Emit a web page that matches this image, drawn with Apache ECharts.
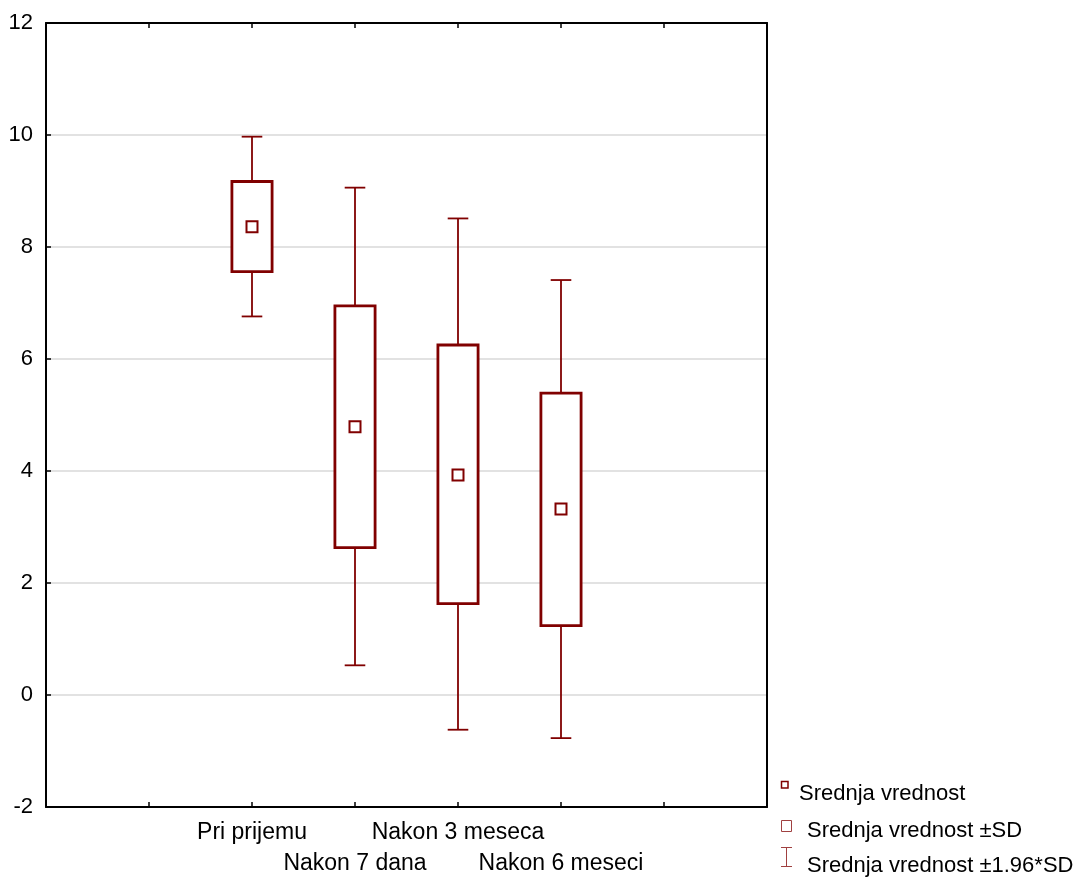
<!DOCTYPE html>
<html>
<head>
<meta charset="utf-8">
<title>Srednja vrednost</title>
<script src="https://cdn.jsdelivr.net/npm/echarts@6/dist/echarts.min.js"></script>
<style>
  html, body { margin: 0; padding: 0; background: #fff; }
  #chart { width: 1083px; height: 879px; }
</style>
</head>
<body>
<div id="chart"></div>
<script>
// Measurement times
const categories = ['Pri prijemu', 'Nakon 7 dana', 'Nakon 3 meseca', 'Nakon 6 meseci'];
// Mean per time point
const means = [8.36, 4.79, 3.93, 3.32];
// Mean ± SD
const sdLow = [7.56, 2.63, 1.63, 1.24];
const sdHigh = [9.17, 6.95, 6.25, 5.39];
// Mean ± 1.96*SD
const ciLow = [6.76, 0.53, -0.62, -0.77];
const ciHigh = [9.97, 9.06, 8.51, 7.41];
// Legend labels
const legendLabels = ['Srednja vrednost', 'Srednja vrednost ±SD', 'Srednja vrednost ±1.96*SD'];

const RED = '#800000';
const FONT = "'Liberation Sans', Arial, sans-serif";

// categories sit on x = 2..5 of a 0..7 axis
const xOf = i => i + 2;
const labelOf = {};
categories.forEach((c, i) => { labelOf[xOf(i)] = (i % 2 === 0) ? c : '\n' + c; });

const boxData = categories.map((c, i) => [xOf(i), sdLow[i], sdHigh[i]]);
const whiskerData = categories.map((c, i) => [xOf(i), ciLow[i], sdLow[i], sdHigh[i], ciHigh[i]]);
const meanData = categories.map((c, i) => [xOf(i), means[i]]);

const chart = echarts.init(document.getElementById('chart'), null, { renderer: 'canvas' });

const frameLine = { show: true, onZero: false, lineStyle: { color: '#000', width: 2 } };
const innerTick = { show: true, inside: true, length: 5, lineStyle: { color: '#000', width: 1.5 } };

const option = {
  backgroundColor: '#ffffff',
  animation: false,
  grid: { left: 46, right: 316, top: 23, bottom: 72, containLabel: false },
  xAxis: [
    {
      type: 'value', min: 0, max: 7, interval: 1, position: 'bottom',
      axisLine: frameLine,
      axisTick: innerTick,
      splitLine: { show: false },
      axisLabel: {
        show: true, margin: 10, fontFamily: FONT, fontSize: 23, color: '#000',
        lineHeight: 31, verticalAlign: 'top',
        formatter: v => labelOf[v] || ''
      }
    },
    {
      type: 'value', min: 0, max: 7, interval: 1, position: 'top',
      axisLine: frameLine,
      axisTick: innerTick,
      splitLine: { show: false },
      axisLabel: { show: false }
    }
  ],
  yAxis: [
    {
      type: 'value', min: -2, max: 12, interval: 2, position: 'left',
      axisLine: frameLine,
      axisTick: innerTick,
      splitLine: { show: true, lineStyle: { color: '#d9d9d9', width: 1.5 } },
      axisLabel: { margin: 13, fontFamily: FONT, fontSize: 22, color: '#000' }
    },
    {
      type: 'value', min: -2, max: 12, interval: 2, position: 'right',
      axisLine: frameLine,
      axisTick: { show: false },
      splitLine: { show: false },
      axisLabel: { show: false }
    }
  ],
  series: [
    {
      name: legendLabels[2],
      type: 'custom',
      data: whiskerData,
      encode: { x: 0, y: [1, 2, 3, 4] },
      z: 2,
      renderItem: function (params, api) {
        const x = api.value(0);
        const pLo = api.coord([x, api.value(1)]);
        const pBoxLo = api.coord([x, api.value(2)]);
        const pBoxHi = api.coord([x, api.value(3)]);
        const pHi = api.coord([x, api.value(4)]);
        const half = api.size([1, 0])[0] * 0.1;
        const style = { stroke: RED, lineWidth: 1.8, fill: null };
        const line = (x1, y1, x2, y2) => ({ type: 'line', shape: { x1, y1, x2, y2 }, style });
        return {
          type: 'group',
          children: [
            line(pLo[0], pLo[1], pBoxLo[0], pBoxLo[1]),
            line(pHi[0], pHi[1], pBoxHi[0], pBoxHi[1]),
            line(pLo[0] - half, pLo[1], pLo[0] + half, pLo[1]),
            line(pHi[0] - half, pHi[1], pHi[0] + half, pHi[1])
          ]
        };
      }
    },
    {
      name: legendLabels[1],
      type: 'custom',
      data: boxData,
      encode: { x: 0, y: [1, 2] },
      z: 3,
      renderItem: function (params, api) {
        const x = api.value(0);
        const pLo = api.coord([x, api.value(1)]);
        const pHi = api.coord([x, api.value(2)]);
        const w = api.size([1, 0])[0] * 0.39;
        return {
          type: 'rect',
          shape: { x: pLo[0] - w / 2, y: pHi[1], width: w, height: pLo[1] - pHi[1] },
          style: { stroke: RED, lineWidth: 2.8, fill: '#ffffff' }
        };
      }
    },
    {
      name: legendLabels[0],
      type: 'scatter',
      data: meanData,
      symbol: 'rect',
      symbolSize: 11,
      z: 4,
      itemStyle: { color: '#ffffff', borderColor: RED, borderWidth: 2, opacity: 1 }
    }
  ],
  graphic: [
    // legend: mean marker
    { type: 'rect', shape: { x: 781.5, y: 781.5, width: 6.5, height: 6.5 },
      style: { stroke: RED, lineWidth: 1.5, fill: '#fff' } },
    { type: 'text', x: 799, y: 794,
      style: { text: legendLabels[0], font: '22px ' + FONT, fill: '#000', verticalAlign: 'middle' } },
    // legend: ±SD box
    { type: 'rect', shape: { x: 781.5, y: 820.5, width: 10, height: 11 },
      style: { stroke: '#a04040', lineWidth: 1, fill: '#fff' } },
    { type: 'text', x: 807, y: 831,
      style: { text: legendLabels[1], font: '22px ' + FONT, fill: '#000', verticalAlign: 'middle' } },
    // legend: ±1.96*SD whisker
    { type: 'line', shape: { x1: 786.5, y1: 847.5, x2: 786.5, y2: 866.5 },
      style: { stroke: '#a04040', lineWidth: 1 } },
    { type: 'line', shape: { x1: 781, y1: 847.5, x2: 792, y2: 847.5 },
      style: { stroke: '#a04040', lineWidth: 1 } },
    { type: 'line', shape: { x1: 781, y1: 866.5, x2: 792, y2: 866.5 },
      style: { stroke: '#a04040', lineWidth: 1 } },
    { type: 'text', x: 807, y: 866,
      style: { text: legendLabels[2], font: '22px ' + FONT, fill: '#000', verticalAlign: 'middle' } }
  ]
};

chart.setOption(option);
</script>
</body>
</html>
